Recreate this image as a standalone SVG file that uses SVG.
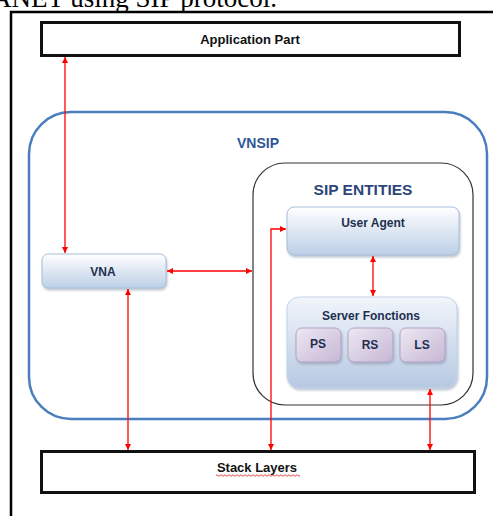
<svg xmlns="http://www.w3.org/2000/svg" width="493" height="516" viewBox="0 0 493 516">
  <defs>
    <linearGradient id="gBlue" x1="0" y1="0" x2="0" y2="1">
      <stop offset="0" stop-color="#ffffff"/>
      <stop offset="1" stop-color="#bccfe6"/>
    </linearGradient>
    <linearGradient id="gServer" x1="0" y1="0" x2="0" y2="1">
      <stop offset="0" stop-color="#f1f5fb"/>
      <stop offset="1" stop-color="#b6c9e2"/>
    </linearGradient>
    <linearGradient id="gPurple" x1="0" y1="0" x2="1" y2="1">
      <stop offset="0" stop-color="#eee8f3"/>
      <stop offset="1" stop-color="#c6b7d4"/>
    </linearGradient>
    <filter id="shadow" x="-10%" y="-20%" width="120%" height="150%">
      <feDropShadow dx="1" dy="2" stdDeviation="1.2" flood-color="#7f8ea3" flood-opacity="0.5"/>
    </filter>
    <marker id="arrow" viewBox="0 0 10 10" refX="10" refY="5" markerWidth="7" markerHeight="6" markerUnits="userSpaceOnUse" orient="auto-start-reverse">
      <path d="M0,0 L10,5 L0,10 z" fill="#ff0000"/>
    </marker>
  </defs>
  <style>
    .frame { fill: none; stroke: #000; stroke-width: 2.5; }
    .box { fill: #fff; stroke: #111; stroke-width: 3; }
    .soft { fill: url(#gBlue); stroke: #a8bedb; stroke-width: 1; filter: url(#shadow); }
    .server { fill: url(#gServer); stroke: #c3d3e8; stroke-width: 1; filter: url(#shadow); }
    .sub { fill: url(#gPurple); stroke: #b3a3c6; stroke-width: 1; filter: url(#shadow); }
    .lbl { font-family: "Liberation Sans", Arial, sans-serif; font-weight: bold; text-anchor: middle; }
    .dark { fill: #1e2f4f; font-size: 12px; }
    .blk { fill: #111; font-size: 13px; }
    .link { fill: none; stroke: #ff0000; stroke-width: 1.3; marker-start: url(#arrow); marker-end: url(#arrow); }
  </style>

  <!-- caption line of the surrounding page -->
  <text x="277" y="7" font-family="Liberation Serif, 'Times New Roman', serif" font-size="27" text-anchor="end" fill="#000">ANET using SIP protocol.</text>

  <!-- outer frame -->
  <path class="frame" d="M11,520 L11,12 L500,12"/>

  <g id="application-part">
    <rect class="box" x="41.5" y="22.5" width="418" height="33"/>
    <text class="lbl blk" x="250" y="44">Application Part</text>
  </g>

  <g id="vnsip">
    <rect x="29" y="112" width="458" height="307" rx="42" ry="42" fill="none" stroke="#4a7ebf" stroke-width="2.5"/>
    <text class="lbl" x="258" y="148" font-size="14" fill="#2f5597">VNSIP</text>
  </g>

  <g id="sip-entities">
    <rect x="253" y="163" width="220" height="242" rx="32" ry="32" fill="none" stroke="#333" stroke-width="1.2"/>
    <text class="lbl" x="363" y="195" font-size="15.5" fill="#2b4678">SIP ENTITIES</text>
  </g>

  <g id="vna">
    <rect class="soft" x="42" y="254" width="124" height="34" rx="6"/>
    <text class="lbl dark" x="103" y="276">VNA</text>
  </g>

  <g id="user-agent">
    <rect class="soft" x="287" y="207" width="172" height="48" rx="7"/>
    <text class="lbl dark" x="373" y="227">User Agent</text>
  </g>

  <g id="server-fonctions">
    <rect class="server" x="287" y="297" width="170" height="91" rx="12"/>
    <text class="lbl dark" x="371" y="320">Server Fonctions</text>
  </g>

  <g id="ps">
    <rect class="sub" x="296" y="328" width="45" height="34" rx="6"/>
    <text class="lbl dark" x="318" y="348">PS</text>
  </g>
  <g id="rs">
    <rect class="sub" x="348" y="328" width="45" height="34" rx="6"/>
    <text class="lbl dark" x="370" y="349">RS</text>
  </g>
  <g id="ls">
    <rect class="sub" x="400" y="328" width="45" height="34" rx="6"/>
    <text class="lbl dark" x="422" y="349">LS</text>
  </g>

  <g id="stack-layers">
    <rect class="box" x="41.5" y="451.5" width="433" height="41"/>
    <text class="lbl blk" x="257" y="472">Stack Layers</text>
    <!-- spell-check underline -->
    <path d="M216,475.5 q1,-1.5 2,0 t2,0 t2,0 t2,0 t2,0 t2,0 t2,0 t2,0 t2,0 t2,0 t2,0 t2,0 t2,0 t2,0 t2,0 t2,0 t2,0 t2,0 t2,0 t2,0 t2,0 t2,0 t2,0 t2,0 t2,0 t2,0 t2,0 t2,0 t2,0 t2,0 t2,0 t2,0 t2,0 t2,0 t2,0 t2,0 t2,0 t2,0 t2,0 t2,0 t2,0 t2,0" fill="none" stroke="#e02020" stroke-width="0.8"/>
  </g>

  <g id="connectors">
    <line class="link" x1="65" y1="57" x2="65" y2="253"/>
    <line class="link" x1="167" y1="271" x2="252" y2="271"/>
    <line class="link" x1="128" y1="289" x2="128" y2="450"/>
    <polyline class="link" points="271,450 271,229 286,229"/>
    <line class="link" x1="373" y1="256" x2="373" y2="296"/>
    <line class="link" x1="430" y1="389" x2="430" y2="450"/>
  </g>
</svg>
